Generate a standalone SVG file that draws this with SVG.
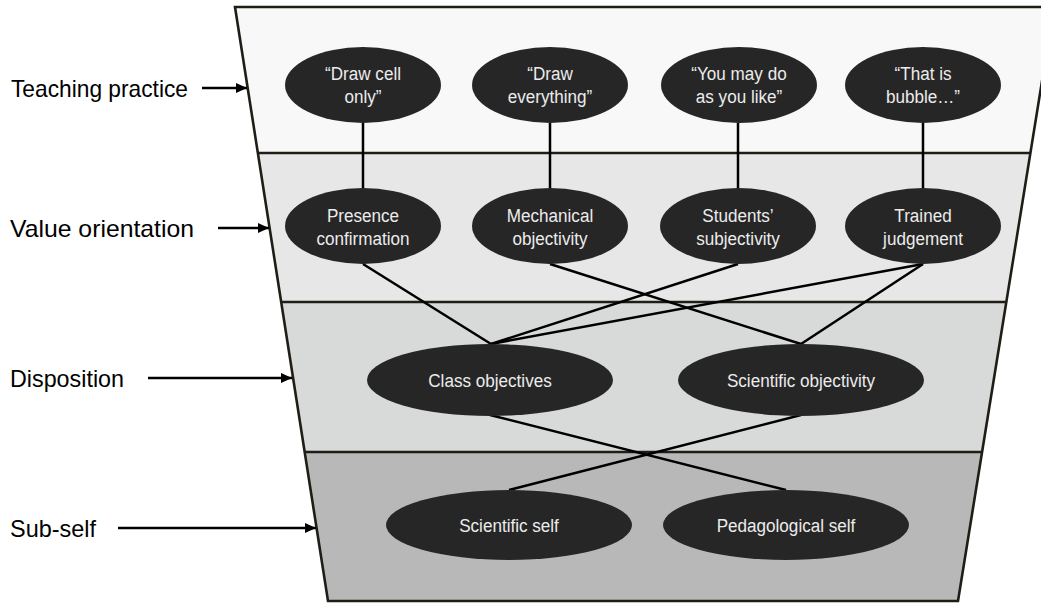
<svg xmlns="http://www.w3.org/2000/svg" width="1041" height="603" viewBox="0 0 1041 603">
<style>
.band{stroke:none}
.div{stroke:#1f1d15;stroke-width:2.6;fill:none}
.node ellipse{fill:#262626}
.node text{fill:#ececec;font-family:"Liberation Sans",Arial,sans-serif;font-size:19px;text-anchor:middle}
.lbl{fill:#000;font-family:"Liberation Sans",Arial,sans-serif;font-size:24px}
.con line{stroke:#000;stroke-width:2.5}
.arr{stroke:#000;stroke-width:2.3;marker-end:url(#ah)}
</style>
<defs>
<marker id="ah" markerWidth="12" markerHeight="10" refX="11" refY="5" orient="auto" markerUnits="userSpaceOnUse">
<path d="M0,0 L11,5 L0,10 Z" fill="#000"/>
</marker>
</defs>
<g id="funnel">
<polygon class="band" points="235,7 1054,7 1030.4,153 257.9,153" fill="#f8f8f8"/>
<polygon class="band" points="257.9,153 1030.4,153 1006.3,302 281.2,302" fill="#e7e7e7"/>
<polygon class="band" points="281.2,302 1006.3,302 982.1,452 304.7,452" fill="#d8d9d9"/>
<polygon class="band" points="304.7,452 982.1,452 958,601 328,601" fill="#b8b8b8"/>
<line class="div" x1="257.9" y1="153" x2="1030.4" y2="153"/>
<line class="div" x1="281.2" y1="302" x2="1006.3" y2="302"/>
<line class="div" x1="304.7" y1="452" x2="982.1" y2="452"/>
<polygon class="div" points="235,7 1054,7 958,601 328,601"/>
</g>
<g id="labels">
<text class="lbl" x="11" y="97" textLength="177" lengthAdjust="spacingAndGlyphs">Teaching practice</text>
<line class="arr" x1="202" y1="88" x2="247" y2="88"/>
<text class="lbl" x="10" y="237" textLength="184" lengthAdjust="spacingAndGlyphs">Value orientation</text>
<line class="arr" x1="218" y1="228" x2="269" y2="228"/>
<text class="lbl" x="10" y="387" textLength="114" lengthAdjust="spacingAndGlyphs">Disposition</text>
<line class="arr" x1="148" y1="378" x2="292" y2="378"/>
<text class="lbl" x="10" y="537" textLength="86" lengthAdjust="spacingAndGlyphs">Sub-self</text>
<line class="arr" x1="118" y1="528" x2="316" y2="528"/>
</g>
<g id="connectors" class="con">
<line x1="363" y1="123" x2="363" y2="189"/>
<line x1="550" y1="123" x2="550" y2="189"/>
<line x1="738" y1="123" x2="738" y2="189"/>
<line x1="923" y1="123" x2="923" y2="189"/>
<line x1="363" y1="264" x2="491" y2="344"/>
<line x1="738" y1="264" x2="491" y2="344"/>
<line x1="923" y1="264" x2="491" y2="344"/>
<line x1="550" y1="264" x2="801" y2="344"/>
<line x1="923" y1="264" x2="801" y2="344"/>
<line x1="490" y1="415" x2="786" y2="490"/>
<line x1="801" y1="415" x2="509" y2="490"/>
</g>
<g id="n-drawcell" class="node"><ellipse cx="363" cy="85" rx="78" ry="38"/><text transform="translate(363 85) scale(0.9 1)"><tspan x="0" y="-5">“Draw cell</tspan><tspan x="0" y="18">only”</tspan></text></g>
<g id="n-draweverything" class="node"><ellipse cx="550" cy="85" rx="78" ry="38"/><text transform="translate(550 85) scale(0.9 1)"><tspan x="0" y="-5">“Draw</tspan><tspan x="0" y="18">everything”</tspan></text></g>
<g id="n-youmay" class="node"><ellipse cx="739" cy="85" rx="78" ry="38"/><text transform="translate(739 85) scale(0.9 1)"><tspan x="0" y="-5">“You may do</tspan><tspan x="0" y="18">as you like”</tspan></text></g>
<g id="n-bubble" class="node"><ellipse cx="923" cy="85" rx="78" ry="38"/><text transform="translate(923 85) scale(0.9 1)"><tspan x="0" y="-5">“That is</tspan><tspan x="0" y="18">bubble…”</tspan></text></g>
<g id="n-presence" class="node"><ellipse cx="363" cy="226" rx="78" ry="38"/><text transform="translate(363 226) scale(0.9 1)"><tspan x="0" y="-4">Presence</tspan><tspan x="0" y="19">confirmation</tspan></text></g>
<g id="n-mechanical" class="node"><ellipse cx="550" cy="226" rx="78" ry="38"/><text transform="translate(550 226) scale(0.9 1)"><tspan x="0" y="-4">Mechanical</tspan><tspan x="0" y="19">objectivity</tspan></text></g>
<g id="n-students" class="node"><ellipse cx="738" cy="226" rx="78" ry="38"/><text transform="translate(738 226) scale(0.9 1)"><tspan x="0" y="-4">Students’</tspan><tspan x="0" y="19">subjectivity</tspan></text></g>
<g id="n-trained" class="node"><ellipse cx="923" cy="226" rx="78" ry="38"/><text transform="translate(923 226) scale(0.9 1)"><tspan x="0" y="-4">Trained</tspan><tspan x="0" y="19">judgement</tspan></text></g>
<g id="n-classobj" class="node"><ellipse cx="490" cy="380" rx="123" ry="36"/><text transform="translate(490 380) scale(0.9 1)"><tspan x="0" y="7">Class objectives</tspan></text></g>
<g id="n-sciobj" class="node"><ellipse cx="801" cy="380" rx="123" ry="36"/><text transform="translate(801 380) scale(0.9 1)"><tspan x="0" y="7">Scientific objectivity</tspan></text></g>
<g id="n-sciself" class="node"><ellipse cx="509" cy="525" rx="123" ry="35"/><text transform="translate(509 525) scale(0.9 1)"><tspan x="0" y="7">Scientific self</tspan></text></g>
<g id="n-pedself" class="node"><ellipse cx="786" cy="525" rx="123" ry="35"/><text transform="translate(786 525) scale(0.9 1)"><tspan x="0" y="7">Pedagological self</tspan></text></g>
</svg>
